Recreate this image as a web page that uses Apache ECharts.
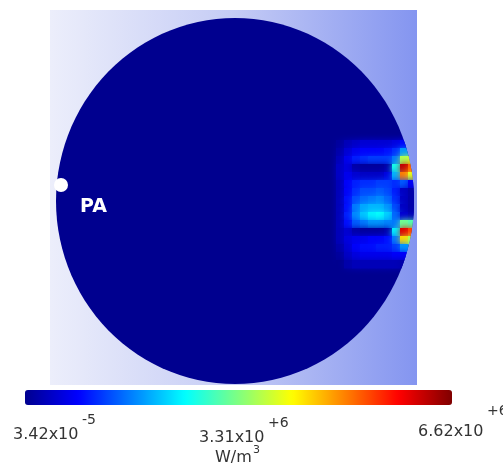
<!DOCTYPE html>
<html><head><meta charset="utf-8">
<script src="https://cdn.jsdelivr.net/npm/echarts@6/dist/echarts.min.js"></script>
<style>html,body{margin:0;padding:0;background:#fff}#c{width:503px;height:468px}</style>
</head><body><div id="c"></div>
<script>
// ---- data (domain units; x to the right, y downward) ----
const domainCenter = [185, 191];
const domainRadii = [179, 183];
const cellSize = 8;
const heatX = [290, 298, 306, 314, 322, 330, 338, 346, 354, 362];
const heatY = [134, 142, 150, 158, 166, 174, 182, 190, 198, 206, 214, 222, 230, 238, 246, 254];
// power density, x10^6 W/m^3 (null = outside the domain)
const heatRows = [
  [0.1, 0.3, 0.4, 0.5, 0.5, 0.5, 0.5, 0.6, 0.8, null],
  [0.2, 0.5, 0.7, 0.8, 0.8, 0.8, 0.9, 1.1, 1.8, null],
  [0.3, 0.7, 1.0, 1.1, 1.2, 1.2, 1.2, 1.6, 3.6, 3.8],
  [0.4, 0.6, 0.2, 0.1, 0.1, 0.1, 0.2, 2.6, 6.2, 5.2],
  [0.4, 0.7, 0.5, 0.4, 0.4, 0.4, 0.6, 2.0, 5.0, 4.0],
  [0.3, 0.8, 1.0, 1.1, 1.1, 1.2, 1.2, 1.1, 1.4, 0.8],
  [0.3, 0.8, 1.1, 1.3, 1.3, 1.4, 1.3, 1.0, 0.4, 0.2],
  [0.3, 0.9, 1.3, 1.5, 1.6, 1.7, 1.5, 1.1, 0.4, 0.2],
  [0.3, 0.9, 1.6, 1.9, 2.0, 2.0, 1.8, 1.3, 0.4, 0.2],
  [0.3, 1.0, 1.7, 2.1, 2.4, 2.5, 2.2, 1.5, 0.5, 0.3],
  [0.3, 0.9, 1.4, 1.6, 1.8, 1.8, 1.7, 1.6, 3.2, 3.0],
  [0.3, 0.5, 0.2, 0.1, 0.1, 0.1, 0.2, 2.4, 6.0, 5.4],
  [0.3, 0.6, 0.7, 0.7, 0.8, 0.8, 0.9, 1.6, 4.4, 3.6],
  [0.2, 0.5, 0.8, 0.9, 0.9, 1.0, 1.0, 1.2, 1.8, null],
  [0.1, 0.4, 0.6, 0.7, 0.7, 0.7, 0.7, 0.8, 0.8, null],
  [0.0, 0.2, 0.3, 0.3, 0.3, 0.3, 0.3, 0.3, 0.2, null]
];
const probeName = 'PA';
const probePos = [11, 175];
const rangeMin = 3.42e-5;   // W/m^3
const rangeMax = 6.62e6;    // W/m^3
const scale = 1e6;
const tickMantissa = ['3.42x10', '3.31x10', '6.62x10'];
const tickExponent = ['-5', '+6', '+6'];
const unitBase = 'W/m';
const unitExp = '3';

// ---- build ----
const heatData = [];
heatRows.forEach((row, i) => row.forEach((v, j) => {
  if (v !== null) heatData.push([heatX[j], heatY[i], v]);
}));
const jet = ['#00008f', '#0000ff', '#0080ff', '#00ffff', '#80ff80', '#ffff00', '#ff8000', '#ff0000', '#800000'];

function ellipsePts(api) {
  const c = api.coord(domainCenter);
  const s = api.size(domainRadii);
  const rx = Math.abs(s[0]), ry = Math.abs(s[1]);
  const pts = [];
  for (let k = 0; k < 120; k++) {
    const a = k / 120 * Math.PI * 2;
    pts.push([c[0] + rx * Math.cos(a), c[1] + ry * Math.sin(a)]);
  }
  return pts;
}

const chart = echarts.init(document.getElementById('c'), null, {renderer: 'canvas'});
const FONT = 'DejaVu Sans';
const graphics = [];
const tickPos = [[13, 436, 82, 421], [199, 439, 268, 424], [418, 433, 487, 412]];
tickMantissa.forEach((m, i) => {
  const p = tickPos[i];
  graphics.push({type: 'text', left: p[0], top: p[1] - 9, style: {text: m, fontFamily: FONT, fontSize: 16, fill: '#333'}});
  graphics.push({type: 'text', left: p[2], top: p[3] - 8, style: {text: tickExponent[i], fontFamily: FONT, fontSize: 14, fill: '#333'}});
});
graphics.push({type: 'text', left: 215, top: 450, style: {text: unitBase, fontFamily: FONT, fontSize: 16, fill: '#333'}});
graphics.push({type: 'text', left: 253, top: 445, style: {text: unitExp, fontFamily: FONT, fontSize: 11, fill: '#333'}});

chart.setOption({
  animation: false,
  grid: {
    left: 50, top: 10, width: 367, height: 375, show: true, borderWidth: 0,
    backgroundColor: new echarts.graphic.LinearGradient(0, 0, 1, 0, [
      {offset: 0, color: '#eceefb'}, {offset: 0.5, color: '#c5ccf5'}, {offset: 1, color: '#8495f0'}
    ])
  },
  xAxis: {type: 'value', min: 0, max: 367, show: false},
  yAxis: {type: 'value', min: 0, max: 375, inverse: true, show: false},
  visualMap: {
    type: 'continuous', min: rangeMin / scale, max: rangeMax / scale, dimension: 2, seriesIndex: 1,
    orient: 'horizontal', left: 25, top: 390, itemWidth: 15, itemHeight: 427, padding: 0,
    calculable: false, hoverLink: false, text: null, inRange: {color: jet}
  },
  graphic: graphics,
  series: [
    {
      type: 'custom', silent: true, z: 1,
      data: [[domainCenter[0], domainCenter[1]]],
      renderItem: (params, api) => ({
        type: 'polygon', shape: {points: ellipsePts(api)}, style: {fill: jet[0]}
      })
    },
    {
      type: 'custom', silent: true, z: 2,
      data: heatData,
      renderItem: (params, api) => {
        const c = api.coord([api.value(0), api.value(1)]);
        const s = api.size([cellSize, cellSize]);
        const w = Math.abs(s[0]), h = Math.abs(s[1]);
        const col = api.visual('color');
        return {
          type: 'rect',
          shape: {x: c[0] - w / 2, y: c[1] - h / 2, width: w + 0.6, height: h + 0.6},
          style: {fill: col, shadowBlur: 6, shadowColor: col},
          clipPath: {type: 'polygon', shape: {points: ellipsePts(api)}}
        };
      }
    },
    {
      type: 'scatter', z: 3, silent: true,
      data: [probePos], symbolSize: 14, itemStyle: {color: '#ffffff', opacity: 1},
      label: {show: true, formatter: probeName, position: [26, 20], color: '#ffffff',
              fontFamily: FONT, fontWeight: 'bold', fontSize: 19}
    }
  ]
});
</script></body></html>
